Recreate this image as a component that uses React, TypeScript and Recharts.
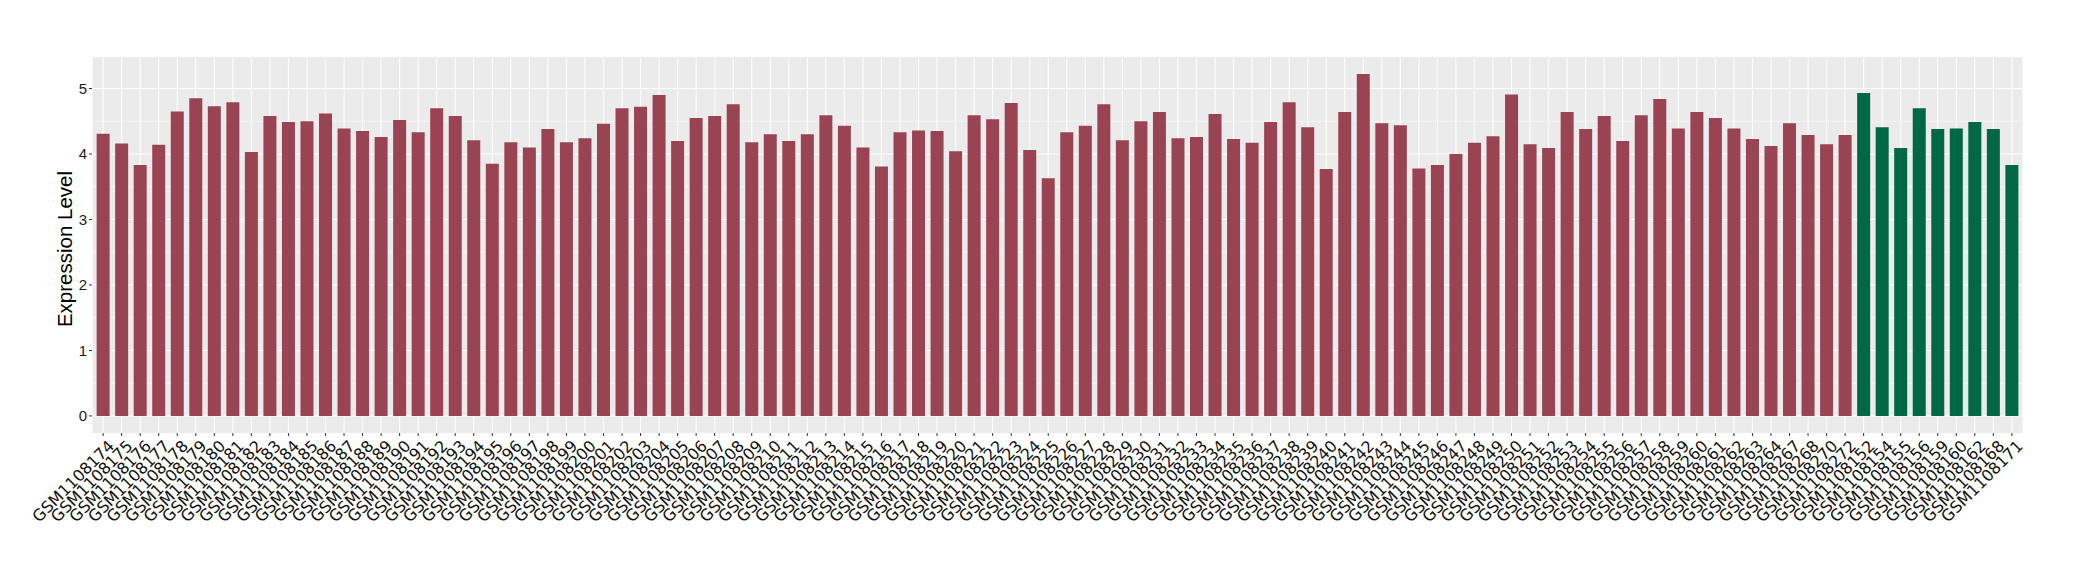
import { Bar, BarChart, CartesianGrid, Cell, XAxis, YAxis } from "recharts";

// samples from the first group (drawn in red)
const groupASamples = [
  "GSM1108174", "GSM1108175", "GSM1108176", "GSM1108177", "GSM1108178", "GSM1108179",
  "GSM1108180", "GSM1108181", "GSM1108182", "GSM1108183", "GSM1108184", "GSM1108185",
  "GSM1108186", "GSM1108187", "GSM1108188", "GSM1108189", "GSM1108190", "GSM1108191",
  "GSM1108192", "GSM1108193", "GSM1108194", "GSM1108195", "GSM1108196", "GSM1108197",
  "GSM1108198", "GSM1108199", "GSM1108200", "GSM1108201", "GSM1108202", "GSM1108203",
  "GSM1108204", "GSM1108205", "GSM1108206", "GSM1108207", "GSM1108208", "GSM1108209",
  "GSM1108210", "GSM1108211", "GSM1108212", "GSM1108213", "GSM1108214", "GSM1108215",
  "GSM1108216", "GSM1108217", "GSM1108218", "GSM1108219", "GSM1108220", "GSM1108221",
  "GSM1108222", "GSM1108223", "GSM1108224", "GSM1108225", "GSM1108226", "GSM1108227",
  "GSM1108228", "GSM1108229", "GSM1108230", "GSM1108231", "GSM1108232", "GSM1108233",
  "GSM1108234", "GSM1108235", "GSM1108236", "GSM1108237", "GSM1108238", "GSM1108239",
  "GSM1108240", "GSM1108241", "GSM1108242", "GSM1108243", "GSM1108244", "GSM1108245",
  "GSM1108246", "GSM1108247", "GSM1108248", "GSM1108249", "GSM1108250", "GSM1108251",
  "GSM1108252", "GSM1108253", "GSM1108254", "GSM1108255", "GSM1108256", "GSM1108257",
  "GSM1108258", "GSM1108259", "GSM1108260", "GSM1108261", "GSM1108262", "GSM1108263",
  "GSM1108264", "GSM1108267", "GSM1108268", "GSM1108270", "GSM1108272",
];

const groupAValues = [
  4.31, 4.16, 3.83, 4.14, 4.65, 4.85, 4.73, 4.79, 4.03, 4.58, 4.49, 4.5,
  4.62, 4.39, 4.35, 4.26, 4.52, 4.33, 4.7, 4.58, 4.21, 3.85, 4.18, 4.1,
  4.38, 4.18, 4.24, 4.46, 4.7, 4.72, 4.9, 4.2, 4.55, 4.58, 4.76, 4.18,
  4.3, 4.2, 4.3, 4.59, 4.43, 4.1, 3.81, 4.33, 4.36, 4.35, 4.04, 4.59,
  4.53, 4.78, 4.06, 3.63, 4.33, 4.43, 4.76, 4.21, 4.5, 4.64, 4.24, 4.26,
  4.61, 4.23, 4.17, 4.49, 4.79, 4.41, 3.77, 4.64, 5.22, 4.47, 4.44, 3.78,
  3.83, 4.0, 4.17, 4.27, 4.91, 4.15, 4.09, 4.64, 4.38, 4.58, 4.2, 4.59,
  4.84, 4.39, 4.64, 4.55, 4.39, 4.23, 4.12, 4.47, 4.29, 4.15, 4.29,
];

// samples from the second group (drawn in green)
const groupBSamples = [
  "GSM1108152", "GSM1108154", "GSM1108155", "GSM1108156", "GSM1108159",
  "GSM1108160", "GSM1108162", "GSM1108168", "GSM1108171",
];

const groupBValues = [4.93, 4.41, 4.09, 4.7, 4.38, 4.39, 4.49, 4.38, 3.83];

const yTicks = [0, 1, 2, 3, 4, 5];
const yMinorTicks = [0.5, 1.5, 2.5, 3.5, 4.5];

const COLOR_A = "#9A4453";
const COLOR_B = "#006845";

const data = [
  ...groupASamples.map((sample, i) => ({ sample, value: groupAValues[i], group: "A" })),
  ...groupBSamples.map((sample, i) => ({ sample, value: groupBValues[i], group: "B" })),
];

const YTitle = ({ viewBox }: any) => {
  const cx = 71.5;
  const cy = viewBox.y + viewBox.height / 2 + 4;
  return (
    <text
      x={cx}
      y={cy}
      transform={`rotate(-90 ${cx} ${cy})`}
      textAnchor="middle"
      fontSize={20.5}
      fontFamily="'Liberation Sans', Arial, sans-serif"
      fill="#000"
    >
      Expression Level
    </text>
  );
};

export default function App() {
  return (
    <div style={{ position: "absolute", left: 0, top: 0, background: "#fff" }}>
      <BarChart
        width={2080}
        height={580}
        data={data}
        margin={{ top: 57, right: 57, left: 0, bottom: 0 }}
        barCategoryGap="15%"
      >
        <CartesianGrid
          fill="#EBEBEB"
          stroke="#FFFFFF"
          strokeWidth={0.55}
          vertical={false}
          horizontalValues={yMinorTicks}
        />
        <CartesianGrid stroke="#FFFFFF" strokeWidth={1.1} horizontalValues={yTicks} />
        <XAxis
          dataKey="sample"
          interval={0}
          height={147}
          padding={{ left: 1.85, right: 1.85 }}
          axisLine={false}
          tickSize={3}
          tickMargin={3}
          tickLine={{ stroke: "#333333" }}
          tick={{
            angle: -45,
            textAnchor: "end",
            dx: 4,
            fontSize: 16,
            fontFamily: "'DejaVu Sans', sans-serif",
            fill: "#111111",
          }}
        />
        <YAxis
          width={92}
          domain={[-0.261, 5.481]}
          ticks={yTicks}
          allowDataOverflow
          axisLine={false}
          tickSize={3}
          tickMargin={2}
          tickLine={{ stroke: "#333333" }}
          tick={{ fontSize: 15, fontFamily: "'Liberation Sans', Arial, sans-serif", fill: "#1A1A1A" }}
          label={<YTitle />}
        />
        <Bar dataKey="value" isAnimationActive={false}>
          {data.map((d) => (
            <Cell key={d.sample} fill={d.group === "A" ? COLOR_A : COLOR_B} />
          ))}
        </Bar>
      </BarChart>
    </div>
  );
}
